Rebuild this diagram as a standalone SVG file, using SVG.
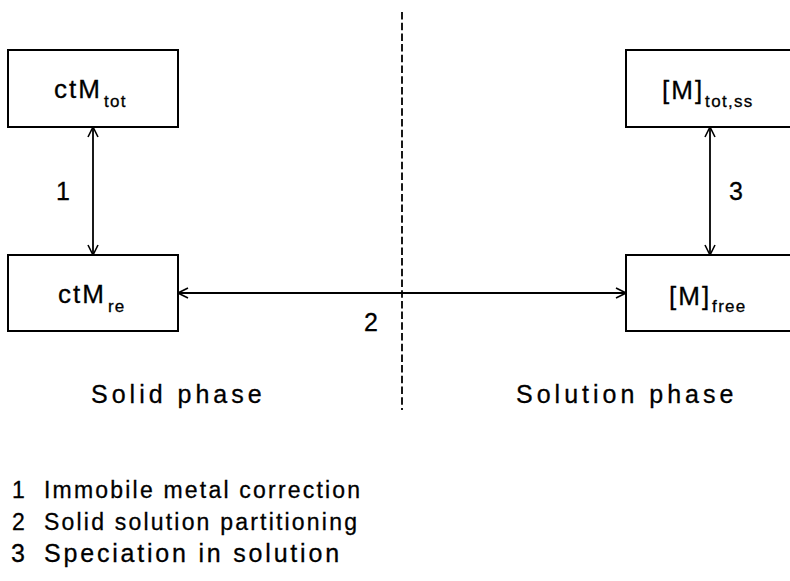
<svg xmlns="http://www.w3.org/2000/svg" width="790" height="581" viewBox="0 0 790 581">
<defs>
<marker id="ah" viewBox="0 0 12 12" refX="11" refY="6" markerWidth="12" markerHeight="12" markerUnits="userSpaceOnUse" orient="auto-start-reverse">
<path d="M1,1 L11,6 L1,11" fill="none" stroke="#000" stroke-width="1.6"/>
</marker>
<style>
.box{fill:#fff;stroke:#000;stroke-width:2}
.t{font-family:"Liberation Sans",Arial,sans-serif;fill:#000;stroke:#000;stroke-width:0.3}
.lbl{font-size:26px;letter-spacing:2px}
.sub{font-size:17px;letter-spacing:1.3px}
.num{font-size:25px}
.ph{font-size:25px;letter-spacing:4px}
.leg{font-size:23px;letter-spacing:2.2px}
.leg3{font-size:25px;letter-spacing:2.8px}
.con{stroke:#000;stroke-width:1.8;fill:none}
</style>
</defs>
<rect width="790" height="581" fill="#fff"/>
<line x1="402" y1="12" x2="402" y2="410" stroke="#000" stroke-width="1.8" stroke-dasharray="7.5 3.2"/>
<g id="connectors">
<line class="con" x1="93" y1="127" x2="93" y2="255" marker-start="url(#ah)" marker-end="url(#ah)"/>
<line class="con" x1="710" y1="127" x2="710" y2="255" marker-start="url(#ah)" marker-end="url(#ah)"/>
<line class="con" x1="178" y1="293" x2="626" y2="293" marker-start="url(#ah)" marker-end="url(#ah)"/>
<text class="t num" x="56" y="200">1</text>
<text class="t num" x="729" y="200">3</text>
<text class="t num" x="364" y="331">2</text>
</g>
<g id="ctMtot">
<rect class="box" x="8" y="50" width="170" height="77"/>
<text class="t lbl" x="54" y="98">ctM<tspan class="sub" dx="2" dy="9">tot</tspan></text>
</g>
<g id="Mtotss">
<rect class="box" x="626" y="50" width="172" height="77"/>
<text class="t lbl" x="662" y="99">[M]<tspan class="sub" dx="1" dy="8">tot,ss</tspan></text>
</g>
<g id="ctMre">
<rect class="box" x="8" y="255" width="170" height="76"/>
<text class="t lbl" x="58" y="303">ctM<tspan class="sub" dx="2" dy="9">re</tspan></text>
</g>
<g id="Mfree">
<rect class="box" x="626" y="255" width="172" height="76"/>
<text class="t lbl" x="669" y="305">[M]<tspan class="sub" dx="1" dy="7">free</tspan></text>
</g>
<text class="t ph" x="91" y="403">Solid phase</text>
<text class="t ph" x="516" y="403">Solution phase</text>
<g id="legend">
<text class="t leg" x="12" y="498">1</text><text class="t leg" x="44" y="498">Immobile metal correction</text>
<text class="t leg" x="12" y="530">2</text><text class="t leg" x="44" y="530">Solid solution partitioning</text>
<text class="t leg3" x="11" y="562">3</text><text class="t leg3" x="44" y="562">Speciation in solution</text>
</g>
</svg>
